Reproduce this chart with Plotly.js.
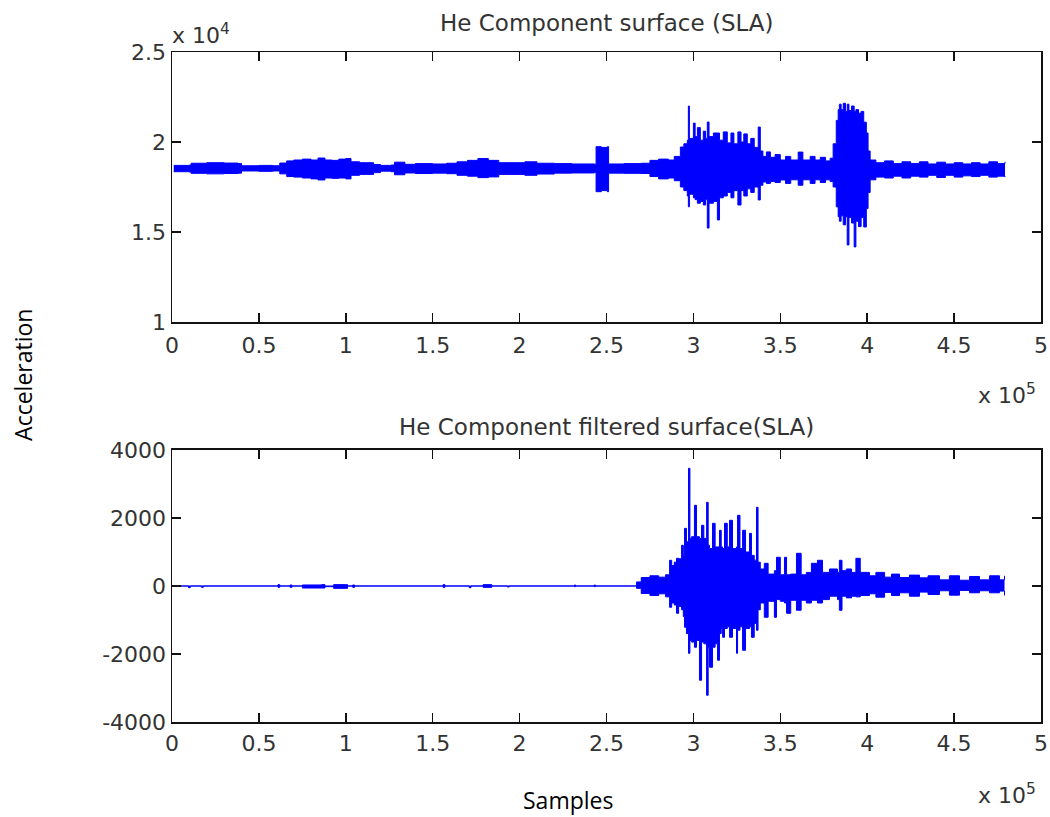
<!DOCTYPE html>
<html>
<head>
<meta charset="utf-8">
<script src="https://cdn.plot.ly/plotly-3.0.1.min.js"></script>
<style>html,body{margin:0;padding:0;background:#fff;}#chart{width:1050px;height:817px;}</style>
</head>
<body>
<div id="chart"></div>
<script>
// ---- Data ----
// Upper panel: raw He component, envelope of the signal (samples, upper / lower extremes)
var topSamples = [1000,10000,11000,20000,30000,38000,40000,50000,58000,62000,
  66000,70000,75000,80000,84000,88000,92000,96000,100000,103000,
  108000,112000,116000,120000,126000,128000,132000,134000,140000,150000,
  158000,164000,170000,176000,182000,188000,195000,203000,210000,220000,
  230000,243000,244000,247000,250500,251200,260000,270000,275000,280000,
  285600,289000,292500,294500,296500,297100,297700,300000,301000,302300,
  304000,305700,307000,308000,309000,311500,313800,315000,317200,319500,
  321600,323300,325600,327400,329000,331000,333000,335000,337300,338500,
  340000,342000,344300,347000,350000,353000,356000,360300,363000,367200,
  370000,373000,376000,378700,380400,382200,383300,384000,385000,386200,
  387500,388500,389500,391000,392500,393500,395000,396500,398000,399500,
  400500,401700,405000,410000,415000,420000,425000,430000,435000,440000,
  445000,450000,455000,460000,465000,470000,475000,479300];
var topUpper = [18700,18720,18820,18850,18830,18800,18680,18700,18680,18830,
  18950,19000,19050,19000,19110,19000,18980,19050,19080,18900,
  18850,18850,18750,18700,18720,18880,18880,18760,18800,18780,
  18820,18900,18980,19080,18980,18850,18850,18900,18820,18800,
  18780,18770,19740,19700,19740,18780,18800,18820,18980,19050,
  19000,19200,19720,19900,20100,22000,20200,21050,20300,20800,
  20100,20600,20200,21110,20300,20500,20500,20100,20560,19950,
  20500,19900,20560,20000,20450,19900,20200,19700,20830,19500,
  19200,19450,19150,19300,19000,19200,19000,19440,19000,19200,
  19000,19150,18950,19100,19900,21200,21800,22100,21800,22150,
  21700,22100,21750,22000,21700,21800,21600,21700,21100,20500,
  19500,19000,18850,18950,18800,18900,18800,18900,18780,18880,
  18780,18850,18780,18850,18780,18900,18800,18900];
var topLower = [18350,18330,18260,18230,18250,18270,18390,18370,18390,18230,
  18080,18050,18000,17950,17890,18000,17980,18000,17950,18150,
  18200,18200,18300,18380,18350,18180,18180,18280,18250,18270,
  18240,18150,18100,18020,18060,18200,18200,18150,18220,18270,
  18280,18300,17240,17300,17240,18270,18260,18250,18080,17950,
  18000,17850,17500,17300,17000,16400,17100,16900,16800,16600,
  16700,16500,16800,15220,16600,16700,15670,16900,17000,17200,
  16900,17300,16500,17300,17000,17400,17200,17500,16780,17600,
  17780,17700,17800,17750,17890,17700,17900,17600,17900,17700,
  17900,17750,17900,17800,17500,16400,15850,15600,15900,15400,
  15850,14280,15800,15500,14170,15600,15300,15800,15280,16300,
  17200,17900,18050,18000,18100,18000,18100,18050,18150,18030,
  18150,18050,18120,18080,18150,18050,18100,18050];

// Lower panel: filtered He component envelope
var botSamples = [0,9500,10500,17000,18000,60000,61000,62000,68000,69000,
  75000,86000,88000,93000,100000,101000,104000,105000,155000,156000,
  157000,171000,172000,179000,183000,184000,193000,194000,231000,231600,
  232200,243000,243600,266000,267300,270000,275000,280000,284000,286300,
  287500,289000,290300,291500,293200,294200,294900,296000,297200,298000,
  299000,300600,301800,303500,304700,306000,307600,308500,309300,311000,
  312500,313900,315000,316000,316800,317900,319500,320800,322500,324800,
  325400,326800,328300,330000,332300,333400,335000,336300,337200,338500,
  340800,343000,346600,347800,350000,352400,353600,356000,359300,362000,
  365000,367900,371400,374300,378300,382900,384000,385500,388000,391000,
  393500,396000,401300,405000,410000,414000,418600,424300,430100,435000,
  441600,447300,453100,458900,464600,470400,476100,479000];
var botUpper = [0,0,0,0,0,0,40,0,30,0,
  30,40,0,40,40,0,30,0,0,40,
  0,0,0,40,40,0,0,0,0,30,
  0,30,0,0,120,250,300,260,330,756,
  600,700,814,800,1197,900,1696,1300,3460,1400,
  1450,2373,1450,1400,1785,1400,2461,1200,1100,1843,
  1150,1150,1638,1150,1100,1843,1150,1932,1100,1150,
  2079,1100,1638,1000,1549,900,760,2314,700,500,
  667,350,450,844,330,844,330,350,961,330,
  400,667,756,400,500,400,756,450,500,400,
  814,400,300,400,260,350,250,320,240,300,
  180,300,170,280,180,300,180,300];
var botLower = [0,-50,0,-40,0,0,-40,0,-40,0,
  -60,-60,-20,-70,-70,0,-40,0,0,-40,
  0,-50,0,-40,-40,0,-30,0,0,-20,
  0,-20,0,0,-70,-220,-280,-230,-320,-626,
  -500,-560,-803,-600,-700,-900,-1214,-1400,-1979,-1600,
  -1650,-1802,-1600,-2772,-1650,-1700,-3213,-1800,-2390,-1800,
  -1700,-2184,-1400,-1250,-1508,-1250,-1200,-1508,-1250,-1979,
  -1300,-1200,-1890,-1250,-1200,-1508,-1100,-1302,-700,-500,
  -920,-450,-920,-400,-450,-500,-803,-420,-714,-420,
  -500,-420,-500,-400,-300,-400,-714,-300,-350,-300,
  -320,-280,-230,-330,-190,-280,-200,-300,-180,-250,
  -140,-270,-130,-200,-140,-200,-150,-280];

// Tick values / labels
var xTickVals = [0,50000,100000,150000,200000,250000,300000,350000,400000,450000,500000];
var xTickText = ['0','0.5','1','1.5','2','2.5','3','3.5','4','4.5','5'];
var topYTickVals = [10000,15000,20000,25000];
var topYTickText = ['1','1.5','2','2.5'];
var botYTickVals = [-4000,-2000,0,2000,4000];
var botYTickText = ['-4000','-2000','0','2000','4000'];

var titles = ['He Component surface (SLA)', 'He Component filtered surface(SLA)'];

// ---- Plot ----
var blue = '#0000ff';
function envTrace(xs, ys, xa, ya, filled) {
  var t = {x: xs, y: ys, xaxis: xa, yaxis: ya, type: 'scatter', mode: 'lines',
    line: {color: blue, width: 1, shape: 'hv'}, hoverinfo: 'skip'};
  if (filled) { t.fill = 'tonexty'; t.fillcolor = blue; }
  return t;
}
var traces = [
  envTrace(topSamples, topLower, 'x', 'y', false),
  envTrace(topSamples, topUpper, 'x', 'y', true),
  envTrace(botSamples, botLower, 'x2', 'y2', false),
  envTrace(botSamples, botUpper, 'x2', 'y2', true)
];

var tickFont = {family: 'DejaVu Sans', size: 22, color: '#333333'};
function axisBase(extra) {
  var a = {
    showline: true, linecolor: '#111111', linewidth: 1.5, mirror: 'ticks',
    ticks: 'inside', ticklen: 9, tickwidth: 1.5, tickcolor: '#111111',
    showgrid: false, zeroline: false, tickfont: tickFont, fixedrange: true,
    layer: 'above traces'
  };
  for (var k in extra) a[k] = extra[k];
  return a;
}

var layout = {
  width: 1050, height: 817,
  margin: {l: 172, r: 9, t: 52, b: 95},
  paper_bgcolor: '#ffffff', plot_bgcolor: '#ffffff',
  showlegend: false,
  xaxis: axisBase({domain: [0, 1], anchor: 'y', range: [0, 500000], tickmode: 'array',
    tickvals: xTickVals, ticktext: xTickText, ticklabelstandoff: 3}),
  yaxis: axisBase({domain: [0.597, 1], anchor: 'x', range: [10000, 25000], tickmode: 'array',
    tickvals: topYTickVals, ticktext: topYTickText}),
  xaxis2: axisBase({domain: [0, 1], anchor: 'y2', range: [0, 500000], tickmode: 'array',
    tickvals: xTickVals, ticktext: xTickText, ticklabelstandoff: 1}),
  yaxis2: axisBase({domain: [0, 0.406], anchor: 'x2', range: [-4000, 4000], tickmode: 'array',
    tickvals: botYTickVals, ticktext: botYTickText}),
  annotations: [
    {text: titles[0], xref: 'paper', yref: 'paper', x: 0.5, y: 1.0433,
     xanchor: 'center', yanchor: 'middle', showarrow: false,
     font: {family: 'DejaVu Sans', size: 23, color: '#333333'}},
    {text: titles[1], xref: 'paper', yref: 'paper', x: 0.5, y: 0.4403,
     xanchor: 'center', yanchor: 'middle', showarrow: false,
     font: {family: 'DejaVu Sans', size: 23, color: '#333333'}},
    {text: 'x 10<sup>4</sup>', xref: 'paper', yref: 'paper', x: -0.002, y: 1.027,
     xanchor: 'left', yanchor: 'middle', showarrow: false,
     font: {family: 'DejaVu Sans', size: 22, color: '#333333'}},
    {text: 'x 10<sup>5</sup>', xref: 'paper', yref: 'paper', x: 0.997, y: 0.489,
     xanchor: 'right', yanchor: 'middle', showarrow: false,
     font: {family: 'DejaVu Sans', size: 22, color: '#333333'}},
    {text: 'x 10<sup>5</sup>', xref: 'paper', yref: 'paper', x: 0.997, y: -0.108,
     xanchor: 'right', yanchor: 'middle', showarrow: false,
     font: {family: 'DejaVu Sans', size: 22, color: '#333333'}},
    {text: 'Acceleration', xref: 'paper', yref: 'paper', x: -0.1715, y: 0.518,
     xanchor: 'center', yanchor: 'middle', textangle: -90, showarrow: false,
     font: {family: 'Open Sans', size: 23, color: '#000000'}},
    {text: 'Samples', xref: 'paper', yref: 'paper', x: 0.4557, y: -0.1164,
     xanchor: 'center', yanchor: 'middle', showarrow: false,
     font: {family: 'Open Sans', size: 23, color: '#000000'}}
  ]
};

Plotly.newPlot('chart', traces, layout, {staticPlot: true, displayModeBar: false});
</script>
</body>
</html>
